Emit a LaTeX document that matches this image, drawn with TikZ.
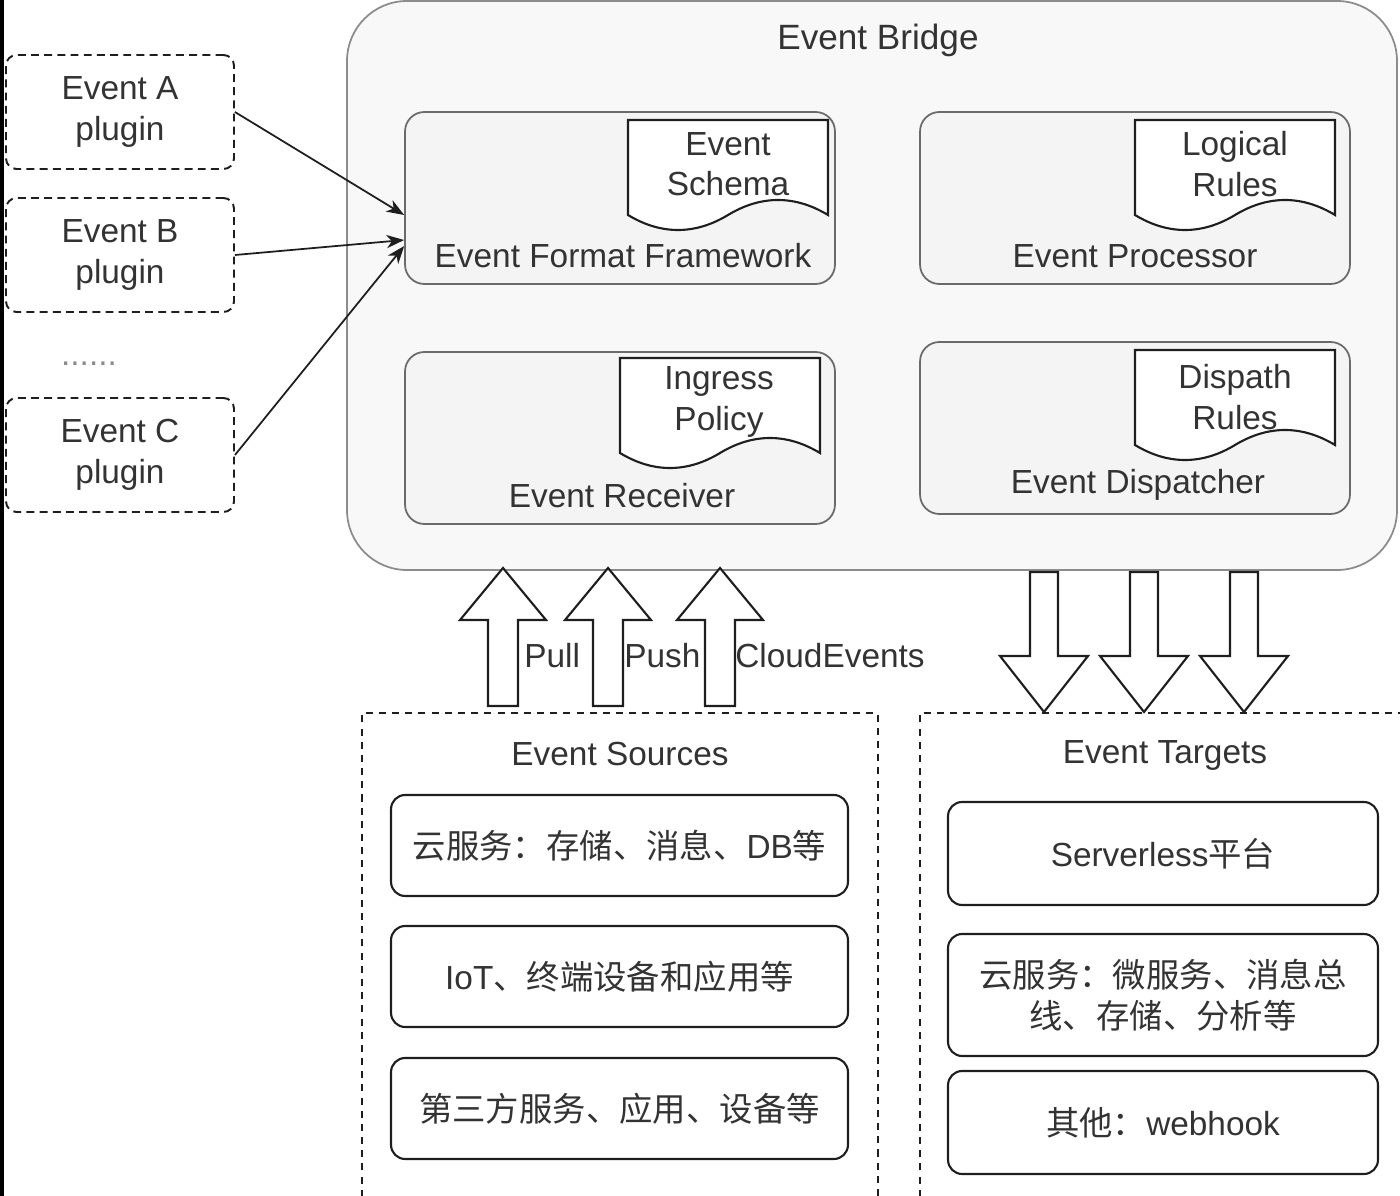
\documentclass[tikz,border=0pt]{standalone}
\usepackage{fontspec}
\setmainfont{Liberation Sans}
\newfontfamily\cjk{Noto Sans CJK SC}
\usepackage{tikz}
\usetikzlibrary{arrows.meta,positioning,calc}
\definecolor{cInk}{HTML}{333333}
\definecolor{cDark}{HTML}{1E1E1E}
\definecolor{cGray}{HTML}{8A8A8A}
\definecolor{cFrame}{HTML}{8C8C8C}
\definecolor{cEdge}{HTML}{6A6A6A}
\definecolor{cPanel}{HTML}{F8F8F8}
\definecolor{cInner}{HTML}{F4F4F4}
\newcommand\fs{\fontsize{19pt}{23pt}\selectfont}
\newcommand\zh[1]{{\cjk #1}}
\tikzset{
  plug/.style={draw=cDark,dash pattern=on 4.5pt off 3pt,rounded corners=6pt,line width=1.1pt,minimum width=4.56cm,minimum height=2.28cm,align=center,font=\fs,text=cInk},
  inbox/.style={draw=cEdge,fill=cInner,rounded corners=11pt,line width=1pt,minimum width=8.6cm,minimum height=3.44cm},
  docsheet/.style={draw=cDark,fill=white,line width=1.2pt},
  txt/.style={font=\fs,text=cInk,align=center,inner sep=0pt},
  item/.style={draw=cDark,rounded corners=8pt,line width=1.2pt,align=center,font=\fs,text=cInk},
  fat/.style={draw=cDark,fill=white,line width=1.2pt,line join=miter},
  arr/.style={-{Stealth[length=10pt,width=7.5pt,inset=3pt]},line width=1pt,color=cDark},
  zone/.style={draw=cDark,dash pattern=on 4pt off 3.5pt,line width=1.1pt},
}

\begin{document}
\begin{tikzpicture}[x=0.02cm,y=-0.02cm]
  \useasboundingbox (0,0) rectangle (1400,1196);
  \fill[black] (0,0) rectangle (4,1196);
  % event bridge
  \draw[draw=cFrame,fill=cPanel,line width=1pt,rounded corners=1.2cm] (347,1) rectangle (1397,570);
  \node[txt,font=\fontsize{20pt}{24pt}\selectfont] (bridge) at (878,40) {Event Bridge};
  \node[inbox] (eff) at (620,198) {};
  \node[inbox] (proc) at (1135,198) {};
  \node[inbox] (recv) at (620,438) {};
  \node[inbox] (disp) at (1135,428) {};
  \foreach \x/\y in {628/120,1135/120,620/358,1135/350}{
    \draw[docsheet,shift={(\x,\y)}] (0,0) -- (200,0) -- (200,95) .. controls (167,75) and (133,75) .. (100,95) .. controls (67,115) and (33,115) .. (0,95) -- cycle;}
  \node[txt] (schema) at (728,164) {Event\\Schema};
  \node[txt] (logic) at (1235,164) {Logical\\Rules};
  \node[txt] (ingress) at (719,402) {Ingress\\Policy};
  \node[txt] (dispr) at (1235,397) {Dispath\\Rules};
  \node[txt] (effl) at (623,256) {Event Format Framework};
  \node[txt] (procl) at (1135,256) {Event Processor};
  \node[txt] (recvl) at (622,496) {Event Receiver};
  \node[txt] (displ) at (1138,485) {Event Dispatcher};
  % plugins
  \node[plug] (pa) at (120,112) {Event A\\plugin};
  \node[plug] (pb) at (120,255) {Event B\\plugin};
  \node[txt,text=cGray] (more) at (89,364) {......};
  \node[plug] (pc) at (120,455) {Event C\\plugin};
  \coordinate (ina) at ($(eff.west)+(0,17)$);
  \coordinate (inb) at ($(eff.west)+(0,42)$);
  \coordinate (inc) at ($(eff.west)+(0,48)$);
  \draw[arr] (pa.east) -- (ina);
  \draw[arr] (pb.east) -- (inb);
  \draw[arr] (pc.east) -- (inc);
  % in / out
  \foreach \c in {503,608,720}{
    \draw[fat] (\c-15,706) -- (\c-15,620) -- (\c-43,620) -- (\c,568) -- (\c+43,620) -- (\c+15,620) -- (\c+15,706) -- cycle;}
  \node[txt,anchor=west] (pull) at (524,656) {Pull};
  \node[txt,anchor=west] (push) at (624,656) {Push};
  \node[txt,anchor=west] (cloud) at (735,656) {CloudEvents};
  \foreach \c in {1044,1144,1244}{
    \draw[fat] (\c-14,572) -- (\c-14,656) -- (\c-44,656) -- (\c,712) -- (\c+44,656) -- (\c+14,656) -- (\c+14,572) -- cycle;}
  % sources
  \draw[zone] (362,1210) -- (362,713) -- (878,713) -- (878,1210);
  \node[txt] (src) at (620,754) {Event Sources};
  \node[item,minimum width=9.14cm,minimum height=2.02cm] (s1) at (619.5,845.5) {\zh{云服务：存储、消息、}DB\zh{等}};
  \node[item,minimum width=9.14cm,minimum height=2.02cm] (s2) at (619.5,976.5) {IoT\zh{、终端设备和应用等}};
  \node[item,minimum width=9.14cm,minimum height=2.02cm] (s3) at (619.5,1108.5) {\zh{第三方服务、应用、设备等}};
  % targets
  \draw[zone] (920,1210) -- (920,713) -- (1410,713);
  \node[txt] (tgt) at (1165,755) {Event Targets};
  \node[item,minimum width=8.6cm,minimum height=2.06cm] (t1) at (1163,853.5) {Serverless\zh{平台}};
  \node[item,minimum width=8.6cm,minimum height=2.44cm] (t2) at (1163,995) {\zh{云服务：微服务、消息总}\\\zh{线、存储、分析等}};
  \node[item,minimum width=8.6cm,minimum height=2.06cm] (t3) at (1163,1122.5) {\zh{其他：}webhook};
\end{tikzpicture}
\end{document}
